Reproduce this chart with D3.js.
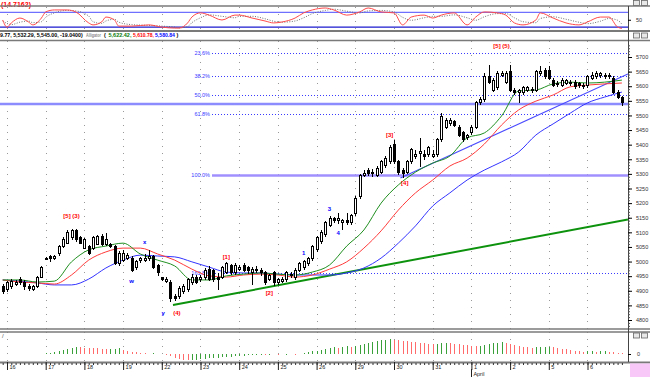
<!DOCTYPE html>
<html>
<head>
<meta charset="UTF-8">
<script src="https://cdn.jsdelivr.net/npm/d3@7"></script>
<style>
  body { margin: 0; background: #fff; }
  svg { display: block; font-family: "Liberation Sans", Arial, sans-serif; }
</style>
</head>
<body>
<div id="chart"></div>
<script>
// hourly bars, 16 Mar - 6 Apr
const opens = [4916,4903,4913,4923,4940,4930,4916,4906,4913,4947,
  5012,5016,5012,5026,5050,5063,5081,5105,5081,5046,
  5050,5046,5060,5087,5060,5057,5050,4992,5005,5012,
  5012,4978,5002,5005,5009,5016,4985,4944,4933,4930,
  4882,4879,4896,4903,4927,4947,4937,4944,4974,4968,
  4947,4947,4964,4985,4961,4974,4988,4978,4964,4974,
  4971,4961,4940,4961,4927,4933,4937,4951,4944,4971,
  4981,4992,5009,5040,5067,5091,5125,5146,5139,5135,
  5142,5132,5163,5221,5296,5313,5303,5296,5306,5327,
  5341,5399,5341,5313,5306,5341,5361,5371,5368,5365,
  5361,5365,5416,5460,5471,5478,5460,5440,5426,5440,
  5460,5543,5553,5632,5587,5594,5638,5614,5649,5587,
  5577,5577,5587,5590,5587,5642,5655,5655,5621,5608,
  5604,5611,5614,5614,5608,5598,5601,5628,5632,5635,
  5638,5632,5628,5580,5560];
const highs = [4923,4933,4940,4937,4947,4937,4923,4920,4951,4985,
  5016,5022,5022,5057,5084,5108,5111,5111,5087,5081,
  5057,5087,5091,5094,5098,5063,5057,5036,5040,5029,
  5019,5005,5016,5026,5040,5022,4992,4947,4947,4937,
  4889,4916,4923,4944,4957,4954,4954,4978,4985,4974,
  4961,4985,4999,4992,4995,4988,4995,4985,4981,4985,
  4978,4968,4957,4968,4944,4947,4968,4964,4978,4999,
  5005,5016,5057,5087,5108,5139,5156,5152,5166,5146,
  5166,5163,5224,5300,5313,5320,5317,5327,5348,5361,
  5399,5416,5348,5320,5348,5389,5382,5423,5382,5395,
  5382,5423,5508,5491,5491,5484,5467,5447,5436,5467,
  5549,5563,5645,5673,5628,5652,5652,5652,5673,5594,
  5590,5601,5601,5598,5655,5669,5662,5669,5628,5618,
  5628,5625,5621,5621,5614,5611,5638,5649,5652,5649,
  5645,5645,5635,5587,5567];
const lows = [4889,4896,4906,4916,4920,4903,4899,4899,4909,4944,
  5005,4999,5005,5019,5046,5060,5074,5067,5060,5043,
  5022,5040,5057,5053,5053,5046,4988,4985,4999,5005,
  4964,4971,4995,4999,5002,4974,4951,4933,4927,4861,
  4865,4872,4889,4896,4920,4923,4930,4937,4933,4930,
  4903,4940,4957,4954,4954,4968,4964,4957,4920,4961,
  4951,4920,4933,4916,4920,4927,4930,4944,4937,4964,
  4971,4985,5002,5033,5060,5084,5118,5132,5128,5108,
  5125,5125,5156,5214,5289,5293,5289,5289,5300,5320,
  5334,5334,5296,5286,5300,5334,5351,5324,5348,5358,
  5354,5358,5409,5454,5464,5460,5426,5409,5416,5433,
  5454,5536,5546,5608,5580,5587,5632,5608,5580,5570,
  5543,5570,5580,5577,5580,5635,5625,5621,5598,5598,
  5598,5604,5601,5590,5594,5590,5594,5621,5625,5628,
  5625,5625,5573,5556,5532];
const closes = [4896,4927,4933,4930,4927,4913,4909,4913,4947,4978,
  5010,5009,5016,5050,5077,5101,5105,5074,5063,5074,
  5029,5081,5087,5057,5074,5050,4995,5029,5029,5022,
  4971,4999,5009,5012,5019,4981,4961,4937,4940,4875,
  4872,4909,4916,4937,4947,4930,4947,4971,4940,4940,
  4940,4978,4992,4961,4988,4981,4971,4968,4974,4968,
  4961,4927,4951,4927,4937,4940,4961,4957,4971,4992,
  4999,5009,5050,5081,5101,5132,5149,5139,5149,5139,
  5132,5156,5217,5293,5303,5303,5306,5320,5341,5354,
  5392,5341,5306,5303,5341,5382,5368,5375,5358,5389,
  5368,5416,5495,5484,5481,5467,5433,5416,5430,5460,
  5543,5553,5632,5614,5621,5645,5645,5645,5587,5577,
  5584,5594,5594,5584,5649,5649,5632,5628,5604,5611,
  5621,5618,5608,5598,5601,5604,5632,5638,5645,5642,
  5632,5638,5580,5563,5545];

// alligator, read every 4th bar
const alligatorIdx = [0,4,8,12,16,20,24,28,32,36,40,44,48,52,56,60,64,68,72,76,80,84,88,92,96,100,104,108,112,116,120,124,128,132,136,140,144];
const lips  = [4937,4937,4930,4933,4999,5040,5053,5063,5026,5005,4985,4937,4937,4951,4957,4961,4957,4954,4964,4988,5053,5108,5200,5262,5306,5337,5361,5423,5440,5498,5584,5587,5608,5614,5611,5614,5621];
const teeth = [4937,4930,4927,4923,4954,5005,5033,5046,5046,5026,5005,4974,4951,4947,4954,4957,4954,4947,4954,4974,4999,5046,5105,5176,5235,5279,5327,5354,5402,5467,5519,5549,5570,5598,5604,5608,5611];
const jaw   = [4937,4933,4927,4920,4920,4940,4978,5005,5022,5019,5016,4999,4981,4964,4961,4961,4957,4954,4954,4954,4961,4978,5012,5063,5122,5190,5235,5279,5313,5341,5375,5433,5471,5508,5543,5563,5580];

// stochastic
const stochIdx = [0,1,2,4,6,7,9,10,12,15,17,20,21,23,24,26,27,30,34,37,40,41,43,44,46,48,51,54,55,58,61,63,65,68,70,72,75,77,80,83,85,88,91,93,95,98,100,102,105,108,110,112,115,117,119,121,124,125,128,131,134,136,139,141,143,144];
const stochK = [49,20,37,57,41,29,57,82,90,90,82,37,29,41,61,49,24,24,29,20,16,16,37,61,78,69,49,69,69,57,45,37,41,57,78,90,98,90,69,82,98,82,78,29,61,69,57,69,78,29,61,82,78,69,37,29,49,78,57,37,29,41,61,61,20,14.7];
const stochD = [45,35,30,40,45,38,42,60,78,88,86,65,42,35,45,52,40,30,27,24,20,17,22,38,58,70,64,58,64,64,54,44,40,45,58,75,88,93,85,78,86,88,82,60,48,58,64,64,70,58,48,62,75,75,58,42,38,55,62,52,40,34,44,55,48,32];

// oscillator histogram
const osc = [2,1,2,1,2,2,1,2,1,2,3,
  5,9,13,17,21,25,28, 27,26,25,24,23,22,20, 21,22,23, 18,14,10,7,5, 3,2,3,2,1,
  -4,-9,-14,-19,-22,-24,
  -23,-22,-20,-19,-17,-16,-14,-13,-11,-10,-9,-7,-6,-5,-4,-3,
  -2,-3,-2,-1,-2,-1,0,1,0,2,
  5,8,11,14,17,20, 24,27,25,29,32,30,34, 38,42,46,50,53,56,58, 60,57,
  55,53,52,50,48,46,44,42,40, 41,43,45, 43,41,39,37,35,33,31,
  34,38,41,44,46,47, 45,42,38,34,30,28,26, 27,28,29,30,28,
  25,22,19,16,14,12,10, 11,12,10,11,12,9,7,5,3];

const dayStart = [1,10,19,28,37,46,55,64,73,82,91,100,109,118,127,136];
const dayLabels = ["16","17","18","19","22","23","24","25","26","29","30","31","1","2","5","6"];
const priceTicks = [4800,4850,4900,4950,5000,5050,5100,5150,5200,5250,5300,5350,5400,5450,5500,5550,5600,5650,5700];

const fibLabels = ["23.6%","38.2%","50.0%","61.8%","100.0%","161.8%"];
const fibPrices = [5713.5,5634,5570,5505.5,5297.5,4961];
const supportPrice = 5539;

const waveText  = ["[5] (5)","[3]","[4]","[1]","[2]","[5] (3)","(4)","y","w","x","1","3","4"];
const waveIdx   = [116,90,93.5,52,62,16,40.5,37.3,30,33,70,76,78];
const wavePrice = [5738,5433,5269,5015,4892,5156,4824,4824,4933,5067,5029,5180,5098];
const waveColor = ["#ff0000","#ff0000","#ff0000","#ff0000","#ff0000","#ff0000","#ff0000","#0000ff","#0000ff","#0000ff","#0000ff","#0000ff","#0000ff"];

const trendGreen = [[39.6,4851],[145.4,5144]];
const trendBlue = [[92.5,5286],[145.4,5642]];

// header readout pieces
const hdrText  = ['9.77, 5,532.29, 5,545.00, -19.0400)', 'Alligator', '(', '5,622.42,', '5,610.78,', '5,580.84', ')'];
const hdrColor = ['#000', '#8a8a8a', '#000', '#0a7a0a', '#ff0000', '#0000ff', '#000'];

const W = 650, H = 377;
const axisX = 628;
const svg = d3.select('#chart').append('svg').attr('width', W).attr('height', H);

const x = d3.scaleLinear().domain([0, 144]).range([2.7, 621.9]);
const y = d3.scaleLinear().domain([4800, 5700]).range([320, 57]);
const yTop = d3.scaleLinear().domain([0, 100]).range([32, 7.5]);
const yOsc = d3.scaleLinear().domain([-40, 60]).range([364, 339]);

const defs = svg.append('defs');
defs.append('clipPath').attr('id', 'clipMain').append('rect').attr('x', 0).attr('y', 41).attr('width', axisX).attr('height', 288);
defs.append('clipPath').attr('id', 'clipTop').append('rect').attr('x', 0).attr('y', 6).attr('width', axisX).attr('height', 25);

// vertical day grid
[[7, 30], [41, 329], [332, 362]].forEach(([a, b]) => {
  svg.append('g').selectAll('line').data(dayStart).enter().append('line')
    .attr('x1', d => Math.round(x(d)) + 0.5).attr('x2', d => Math.round(x(d)) + 0.5)
    .attr('y1', a).attr('y2', b)
    .attr('stroke', '#9a9a9a').attr('stroke-dasharray', '1,6');
});

// ---------- top panel (stochastic) ----------
const stochPanel = svg.append('g').attr('clip-path', 'url(#clipTop)');
stochPanel.append('line').attr('x1', 0).attr('x2', axisX).attr('y1', yTop(80)).attr('y2', yTop(80))
  .attr('stroke', '#7070ff').attr('stroke-width', 1.2);
stochPanel.append('line').attr('x1', 0).attr('x2', axisX).attr('y1', yTop(20)).attr('y2', yTop(20))
  .attr('stroke', '#1a1ad0').attr('stroke-width', 1.2);
const stLine = vals => d3.line().x((d, i) => x(stochIdx[i])).y(d => yTop(d)).curve(d3.curveMonotoneX)(vals);
stochPanel.append('path').attr('d', stLine(stochD)).attr('fill', 'none')
  .attr('stroke', '#707070').attr('stroke-dasharray', '1,1.5');
stochPanel.append('path').attr('d', stLine(stochK)).attr('fill', 'none')
  .attr('stroke', '#ff4a4a').attr('stroke-width', 1);

svg.append('text').attr('x', 1).attr('y', 7).attr('fill', '#ff0000')
  .style('font-size', '7px').style('font-weight', 'bold').text('(14.7162)');

// ---------- main panel ----------
const main = svg.append('g').attr('clip-path', 'url(#clipMain)');

main.append('line').attr('x1', 0).attr('x2', axisX)
  .attr('y1', y(supportPrice)).attr('y2', y(supportPrice))
  .attr('stroke', '#8c8cff').attr('stroke-width', 2.5);

fibPrices.forEach((p, k) => {
  const solid = fibLabels[k] === '100.0%';
  main.append('line').attr('x1', 212).attr('x2', axisX)
    .attr('y1', Math.round(y(p)) + 0.5).attr('y2', Math.round(y(p)) + 0.5)
    .attr('stroke', solid ? '#a090ff' : '#3a3aff')
    .attr('stroke-width', solid ? 2.5 : 1)
    .attr('stroke-dasharray', solid ? null : '1,2');
  main.append('text').attr('x', 210).attr('y', y(p) + 2)
    .attr('text-anchor', 'end').attr('fill', '#3a3aff')
    .style('font-size', '5.5px').text(fibLabels[k]);
});

// trend lines
const pline = d3.line().x(d => x(d[0])).y(d => y(d[1]));
main.append('path').attr('d', pline(trendGreen)).attr('stroke', '#0d920d').attr('stroke-width', 2).attr('fill', 'none');
main.append('path').attr('d', pline(trendBlue)).attr('stroke', '#4a4aff').attr('stroke-width', 1.2).attr('fill', 'none');

// alligator
const aLine = vals => d3.line().x((d, i) => x(alligatorIdx[i])).y(d => y(d)).curve(d3.curveMonotoneX)(vals);
main.append('path').attr('d', aLine(jaw)).attr('fill', 'none').attr('stroke', '#3434ff').attr('stroke-width', 1);
main.append('path').attr('d', aLine(teeth)).attr('fill', 'none').attr('stroke', '#ff3a3a').attr('stroke-width', 1);
main.append('path').attr('d', aLine(lips)).attr('fill', 'none').attr('stroke', '#1f8f1f').attr('stroke-width', 1);

// candles
const idx = d3.range(opens.length);
const candles = main.append('g').style('shape-rendering', 'crispEdges');
candles.selectAll('line').data(idx).enter().append('line')
  .attr('x1', i => Math.round(x(i)) + 0.5).attr('x2', i => Math.round(x(i)) + 0.5)
  .attr('y1', i => y(highs[i])).attr('y2', i => y(lows[i]))
  .attr('stroke', '#000');
candles.selectAll('rect').data(idx).enter().append('rect')
  .attr('x', i => Math.round(x(i)) - 1 + 0.5)
  .attr('y', i => y(Math.max(opens[i], closes[i])))
  .attr('width', 2)
  .attr('height', i => Math.max(1, Math.abs(y(opens[i]) - y(closes[i]))))
  .attr('fill', i => closes[i] >= opens[i] ? '#fff' : '#000')
  .attr('stroke', '#000').attr('stroke-width', 1);

// wave labels
main.selectAll('.wave').data(waveText).enter().append('text')
  .attr('class', 'wave')
  .attr('x', (d, k) => x(waveIdx[k])).attr('y', (d, k) => y(wavePrice[k]) + 2)
  .attr('text-anchor', 'middle').attr('fill', (d, k) => waveColor[k])
  .style('font-size', '6px').style('font-weight', 'bold').text(d => d);

// header readout: each piece squeezed horizontally into its slot
const hdrSlots = [[0, 83], [86, 15], [104, 2], [108.5, 23], [133, 21], [155, 20], [176.5, 2]];
hdrText.forEach((t, k) => {
  const [sx, sw] = hdrSlots[k];
  const el = svg.append('text').attr('fill', hdrColor[k])
    .style('font-size', '5.5px').style('font-weight', 'bold').text(t);
  const natural = el.node().getComputedTextLength();
  const s = Math.min(1, sw / natural);
  el.attr('transform', `translate(${sx},36.5) scale(${s},1)`);
});

// ---------- bottom oscillator ----------
const bottom = svg.append('g').style('shape-rendering', 'crispEdges');
bottom.selectAll('line').data(idx).enter().append('line')
  .attr('x1', i => Math.round(x(i)) + 0.5).attr('x2', i => Math.round(x(i)) + 0.5)
  .attr('y1', yOsc(0)).attr('y2', i => yOsc(osc[i]) + (osc[i] === 0 ? 1 : 0))
  .attr('stroke', i => (i > 0 && osc[i] < osc[i - 1]) ? '#ff6a6a' : '#3aa03a')
  .attr('stroke-width', 1);
svg.append('text').attr('x', 2).attr('y', 338).attr('fill', '#555').style('font-size', '6px').text('/');

// ---------- frames ----------
const frame = (y0, w) => svg.append('line').attr('x1', 0).attr('x2', W).attr('y1', y0).attr('y2', y0)
  .attr('stroke', '#7a7a7a').attr('stroke-width', w);
frame(6, 1.5); frame(31, 2); frame(40.5, 1.5); frame(329, 1.5); frame(332, 1.5); frame(362.5, 2);

// right axes
svg.append('line').attr('x1', axisX + 0.5).attr('x2', axisX + 0.5).attr('y1', 6).attr('y2', 362).attr('stroke', '#444');
const minor = svg.append('g').attr('transform', `translate(${axisX},0)`)
  .call(d3.axisRight(y).tickValues(d3.range(4780, 5741, 10)).tickSize(2).tickFormat(''));
minor.select('.domain').remove();
minor.selectAll('line').attr('stroke', '#555');
const major = svg.append('g').attr('transform', `translate(${axisX},0)`)
  .call(d3.axisRight(y).tickValues(priceTicks).tickSize(4).tickPadding(4).tickFormat(d3.format('d')));
major.select('.domain').remove();
major.selectAll('text').style('font-size', '5.5px').attr('fill', '#333');
const topAx = svg.append('g').attr('transform', `translate(${axisX},0)`)
  .call(d3.axisRight(yTop).tickValues([50]).tickSize(3).tickPadding(5));
topAx.select('.domain').remove();
topAx.selectAll('text').style('font-size', '5.5px').attr('fill', '#333');
const oscAx = svg.append('g').attr('transform', `translate(${axisX},0)`)
  .call(d3.axisRight(yOsc).tickValues([0]).tickSize(3).tickPadding(6));
oscAx.select('.domain').remove();
oscAx.selectAll('text').style('font-size', '5.5px').attr('fill', '#333');

// x axis
const xb = svg.append('g').attr('transform', 'translate(0,363)')
  .call(d3.axisBottom(x).tickValues(idx).tickSize(2).tickFormat(''));
xb.select('.domain').remove();
xb.selectAll('line').attr('stroke', '#333');
const xd = svg.append('g').attr('transform', 'translate(0,362)')
  .call(d3.axisBottom(x).tickValues(dayStart).tickSize(8).tickFormat((d, k) => dayLabels[k]));
xd.select('.domain').remove();
xd.selectAll('line').attr('stroke', '#222');
xd.selectAll('text').attr('text-anchor', 'start').attr('dx', 2).attr('y', 3)
  .style('font-size', '5.5px').attr('fill', '#222');
svg.append('line').attr('x1', Math.round(x(dayStart[12])) + 0.5).attr('x2', Math.round(x(dayStart[12])) + 0.5)
  .attr('y1', 369).attr('y2', 377).attr('stroke', '#222');
svg.append('text').attr('x', x(dayStart[12]) + 2).attr('y', 375.5)
  .style('font-size', '5.5px').attr('fill', '#222').text('April');

// corner widgets
svg.append('rect').attr('x', 630).attr('y', 363.5).attr('width', 20).attr('height', 14).attr('fill', '#f8c8f8');
[0.5, 33, 333].forEach(yy => {
  [633, 641].forEach(xx => {
    svg.append('rect').attr('x', xx + 0.5).attr('y', yy).attr('width', 6).attr('height', 5)
      .attr('fill', '#e8e8e8').attr('stroke', '#666').attr('stroke-width', 0.8);
  });
});
</script>
</body>
</html>
